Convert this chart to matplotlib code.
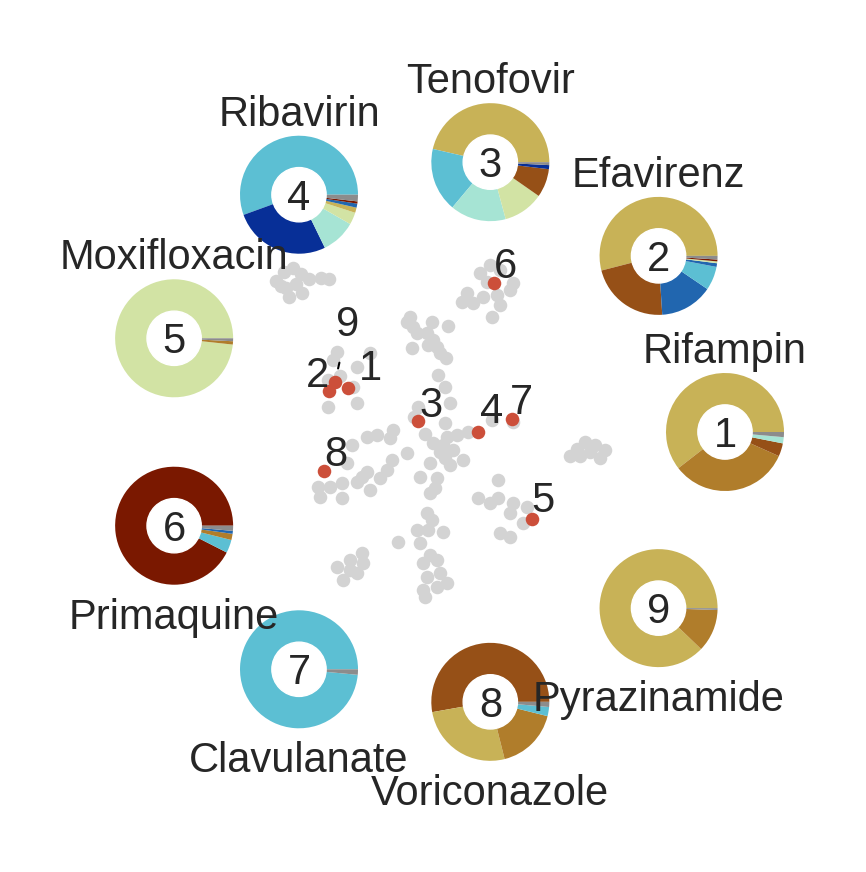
import matplotlib
matplotlib.use("Agg")
import matplotlib.pyplot as plt
from matplotlib.patches import Circle
import numpy as np

plt.rcParams['font.family'] = ['Liberation Sans', 'DejaVu Sans']

W, H, DPI = 866, 872, 100
TXT = "#262626"

# ---------------- data ----------------
drugs = ["Rifampin", "Efavirenz", "Tenofovir", "Ribavirin", "Moxifloxacin",
         "Primaquine", "Clavulanate", "Voriconazole", "Pyrazinamide"]

class_colors = {
    "gold": "#c8b257", "ochre": "#b07d2b", "brown": "#965017",
    "cyan": "#5cbfd3", "navy": "#072f97", "aqua": "#a6e4d4",
    "lime": "#d2e3a4", "blue": "#2166af", "maroon": "#7a1800",
    "grey": "#8c8c8c",
}

pie1_classes = ["gold", "ochre", "brown", "aqua", "grey"]
pie1_values = [0.605, 0.328, 0.036, 0.017, 0.014]
pie2_classes = ["gold", "brown", "blue", "cyan", "blue", "lime", "maroon", "grey"]
pie2_values = [0.54, 0.22, 0.145, 0.065, 0.01, 0.005, 0.005, 0.01]
pie3_classes = ["gold", "cyan", "aqua", "lime", "brown", "navy", "grey"]
pie3_values = [0.464, 0.175, 0.153, 0.111, 0.078, 0.011, 0.008]
pie4_classes = ["cyan", "navy", "aqua", "lime", "gold", "blue", "maroon", "grey"]
pie4_values = [0.55, 0.264, 0.094, 0.033, 0.014, 0.011, 0.006, 0.018]
pie5_classes = ["lime", "ochre", "grey"]
pie5_values = [0.983, 0.009, 0.008]
pie6_classes = ["maroon", "cyan", "ochre", "blue", "grey"]
pie6_values = [0.925, 0.036, 0.017, 0.008, 0.014]
pie7_classes = ["cyan", "grey"]
pie7_values = [0.985, 0.015]
pie8_classes = ["brown", "gold", "ochre", "cyan", "grey"]
pie8_values = [0.528, 0.261, 0.172, 0.025, 0.014]
pie9_classes = ["gold", "ochre", "grey"]
pie9_values = [0.878, 0.117, 0.005]

pie_classes = [pie1_classes, pie2_classes, pie3_classes, pie4_classes, pie5_classes,
               pie6_classes, pie7_classes, pie8_classes, pie9_classes]
pie_values = [pie1_values, pie2_values, pie3_values, pie4_values, pie5_values,
              pie6_values, pie7_values, pie8_values, pie9_values]

# embedding (all compounds)
emb_x = [276, 284, 293, 301, 296, 286, 302, 289, 281, 309, 321, 329,
         480, 490, 500, 513, 510, 467, 462, 473, 483, 497, 500, 492, 487,
         410, 407, 413, 432, 448, 417, 427, 433, 428, 412, 437, 440, 446,
         337, 370, 357, 333, 328, 353, 357, 328, 340,
         438, 445, 450, 445, 418, 425, 414,
         433, 447, 457, 440, 453, 430, 450, 463, 420, 437, 430, 435, 443, 445,
         468, 492, 513,
         367, 377, 393, 390, 352, 407, 392, 347, 367, 387, 380, 357, 318, 330, 342, 370, 320, 342, 362,
         478, 490, 498, 498, 513, 527, 510, 523, 500, 510,
         427, 417, 428, 443, 420, 398, 430, 423, 437, 427, 440, 447, 423, 437, 425, 432,
         337, 350, 362, 343, 357, 363, 350,
         570, 577, 585, 595, 605, 600, 590, 580]
emb_y = [281, 272, 268, 274, 284, 288, 293, 297, 286, 279, 278, 279,
         273, 265, 270, 283, 290, 293, 302, 303, 297, 295, 305, 317, 282,
         317, 322, 327, 322, 326, 333, 333, 340, 345, 348, 347, 353, 358,
         352, 353, 367, 360, 380, 387, 403, 407, 376,
         375, 387, 403, 423, 407, 434, 417,
         443, 437, 435, 452, 450, 463, 465, 460, 477, 478, 493, 488, 445, 458,
         432, 420, 422,
         437, 435, 430, 438, 445, 453, 460, 463, 472, 470, 478, 482, 487, 487, 483, 490, 497, 498, 477,
         498, 503, 480, 498, 503, 507, 513, 523, 533, 537,
         513, 530, 530, 532, 543, 542, 555, 563, 560, 577, 573, 583, 590, 587, 597, 520,
         567, 560, 553, 580, 573, 563, 570,
         456, 449, 442, 445, 450, 458, 452, 456]

# highlighted compounds 1..9
hl_labels = ["1", "2", "3", "4", "5", "6", "7", "8", "9"]
hl_x = [348, 329, 418, 478, 532, 494, 512, 324, 335]
hl_y = [388, 391, 421, 432, 519, 283, 419, 471, 382]

# label offsets (pixels, text baseline relative to point) -- layout
lab_dx = [22, -12, 13, 14, 11, 12, 9, 12, 13]
lab_dy = [-8, -4, -4, -9, -7, -5, -5, -5, -46]

# ---------------- figure ----------------
fig = plt.figure(figsize=(W / DPI, H / DPI), dpi=DPI)
fig.patch.set_facecolor("white")

ax = fig.add_axes([0, 0, 1, 1])
ax.set_xlim(0, W)
ax.set_ylim(H, 0)
ax.axis("off")

ax.scatter(emb_x, emb_y, s=95, color="#d3d3d3", linewidths=0, zorder=2)
ax.scatter(hl_x, hl_y, s=95, color="#cc4f3a", linewidths=0, zorder=4)

# ring of pies
CX, CY, RX, RY, PR = 441, 432, 284, 274, 59
centers = []
for k in range(9):
    ang = np.deg2rad(40 * k)
    cx = CX + RX * np.cos(ang)
    cy = CY - RY * np.sin(ang)
    centers.append((cx, cy, ang))
    pax = fig.add_axes([(cx - PR) / W, 1 - (cy + PR) / H, 2 * PR / W, 2 * PR / H])
    pax.pie(pie_values[k], colors=[class_colors[c] for c in pie_classes[k]],
            startangle=0, counterclock=True, radius=1,
            wedgeprops=dict(linewidth=0))
    pax.add_patch(Circle((0, 0), 0.46, color="white", zorder=5))
    pax.set_xlim(-1, 1)
    pax.set_ylim(-1, 1)
    pax.set_aspect("equal")
    pax.axis("off")

# overlay for all text
tax = fig.add_axes([0, 0, 1, 1], zorder=10)
tax.set_xlim(0, W)
tax.set_ylim(H, 0)
tax.axis("off")
tax.patch.set_alpha(0)

FS = 30
for k, (cx, cy, ang) in enumerate(centers):
    tax.text(cx, cy + 15, str(k + 1), ha="center", va="baseline",
             fontsize=FS, color=TXT)
    if np.sin(ang) >= -1e-9:
        ty = cy - 69
    else:
        ty = cy + 103
    tax.text(cx, ty, drugs[k], ha="center", va="baseline", fontsize=FS, color=TXT)

for i, lab in enumerate(hl_labels):
    tx = hl_x[i] + lab_dx[i]
    ty = hl_y[i] + lab_dy[i]
    if lab == "9":
        tax.annotate(lab, xy=(hl_x[i], hl_y[i]), xytext=(tx, ty),
                     ha="center", va="baseline", fontsize=FS, color=TXT,
                     arrowprops=dict(arrowstyle="-", color="black", lw=1.5,
                                     shrinkA=11, shrinkB=10))
    else:
        tax.text(tx, ty, lab, ha="center", va="baseline", fontsize=FS, color=TXT)

fig.savefig("out.png", dpi=DPI, facecolor="white")
